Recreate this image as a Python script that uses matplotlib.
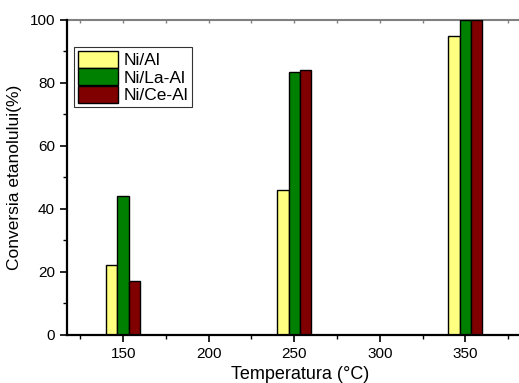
import numpy as np
import matplotlib.pyplot as plt
from matplotlib.ticker import MultipleLocator

plt.rcParams['font.family'] = ['Liberation Sans', 'DejaVu Sans']

# Temperaturi si conversii (%)
temperaturi = [150, 250, 350]
ni_al = [22, 46, 95]
ni_la_al = [44, 83.3, 100]
ni_ce_al = [17, 84, 100]

serii = ['Ni/Al', 'Ni/La-Al', 'Ni/Ce-Al']
culori = ['#ffff80', '#008000', '#800000']

fig = plt.figure(figsize=(5.19, 3.83), dpi=100)
ax = fig.add_axes([0.1285, 0.126, 0.9, 0.822])

w = 20 / 3
x = np.array(temperaturi)
for i, (vals, nume, c) in enumerate(zip([ni_al, ni_la_al, ni_ce_al], serii, culori)):
    ax.bar(x + (i - 1) * w, vals, width=w, color=c, edgecolor='black',
           linewidth=1.0, label=nume)

ax.set_xlim(117, 390)
ax.set_ylim(0, 100)
ax.xaxis.set_major_locator(MultipleLocator(50))
ax.xaxis.set_minor_locator(MultipleLocator(25))
ax.yaxis.set_major_locator(MultipleLocator(20))
ax.yaxis.set_minor_locator(MultipleLocator(10))

ax.tick_params(axis='both', which='major', direction='out', length=5, width=1.2,
               labelsize=11, colors='black')
ax.tick_params(axis='both', which='minor', direction='out', length=3, width=1.0)

# axa de sus: gri, cu liniute mici spre interior
sus = ax.secondary_xaxis('top')
sus.xaxis.set_major_locator(MultipleLocator(25))
sus.tick_params(direction='in', length=2.5, width=1.0, color='#808080', labeltop=False)
sus.spines['top'].set_color('#808080')
sus.spines['top'].set_linewidth(1.5)

ax.spines['left'].set_linewidth(1.6)
ax.spines['bottom'].set_linewidth(1.6)
ax.spines['top'].set_visible(False)
ax.spines['right'].set_visible(False)

ax.set_xlabel('Temperatura (°C)', fontsize=13, labelpad=4)
ax.set_ylabel('Conversia etanolului(%)', fontsize=12.5, labelpad=5)

leg = ax.legend(loc='upper left', bbox_to_anchor=(0.005, 0.93), fontsize=12.5,
                frameon=True, fancybox=False, edgecolor='black', handlelength=2.3,
                handleheight=1.15, labelspacing=0.0, borderpad=0.2,
                handletextpad=0.35, borderaxespad=0.3)
leg.get_frame().set_linewidth(0.8)

fig.savefig('out.png', dpi=100)
